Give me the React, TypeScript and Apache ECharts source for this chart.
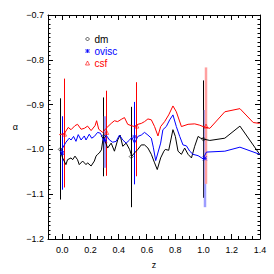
import React, { useEffect, useRef } from "react";
import * as echarts from "echarts";

// dm (black)
const dmZ = [-0.013, 0.003, 0.027, 0.038, 0.063, 0.074, 0.091, 0.109, 0.121, 0.145, 0.169, 0.18, 0.205, 0.228, 0.24, 0.251, 0.263, 0.278, 0.292, 0.322, 0.347, 0.37, 0.393, 0.41, 0.429, 0.453, 0.477, 0.493, 0.512, 0.536, 0.56, 0.583, 0.607, 0.631, 0.654, 0.673, 0.697, 0.72, 0.73, 0.754, 0.784, 0.801, 0.82, 0.844, 0.867, 0.891, 0.915, 0.938, 0.962, 0.981, 1.0, 1.045, 1.151, 1.258, 1.398];
const dmA = [-1.0, -1.019, -1.034, -1.023, -1.019, -1.023, -1.015, -1.023, -1.034, -1.026, -1.034, -1.03, -1.037, -1.026, -1.015, -1.011, -1.008, -1.001, -0.971, -0.997, -0.986, -1.004, -0.979, -0.968, -0.993, -0.986, -1.0, -1.015, -1.008, -1.0, -0.99, -0.99, -0.997, -1.011, -1.03, -1.045, -1.019, -1.004, -1.0, -1.002, -0.956, -0.971, -1.004, -1.011, -0.997, -1.011, -1.019, -0.993, -0.971, -0.975, -0.977, -0.98, -0.975, -0.948, -1.011];

// ovisc (blue)
const ovZ = [-0.013, 0.003, 0.027, 0.05, 0.063, 0.081, 0.098, 0.114, 0.134, 0.157, 0.169, 0.192, 0.209, 0.228, 0.251, 0.271, 0.287, 0.295, 0.311, 0.335, 0.358, 0.382, 0.406, 0.429, 0.453, 0.477, 0.493, 0.512, 0.536, 0.56, 0.583, 0.607, 0.631, 0.645, 0.662, 0.697, 0.713, 0.737, 0.761, 0.784, 0.808, 0.832, 0.855, 0.879, 0.903, 0.926, 0.962, 0.997, 1.021, 1.151, 1.258, 1.398];
const ovA = [-1.006, -0.997, -0.984, -0.975, -0.979, -0.971, -0.982, -0.967, -0.979, -0.97, -0.979, -0.966, -0.975, -0.971, -0.962, -0.964, -0.975, -0.98, -0.968, -0.979, -0.984, -0.982, -0.968, -0.979, -0.986, -0.979, -0.973, -0.986, -0.971, -0.968, -0.962, -0.968, -0.975, -0.995, -1.025, -0.986, -0.956, -0.949, -0.934, -0.923, -0.949, -0.971, -0.99, -0.992, -1.004, -1.011, -1.014, -1.021, -1.006, -1.004, -0.995, -1.011];

// csf (red)
const csZ = [-0.02, 0.015, 0.043, 0.063, 0.091, 0.109, 0.134, 0.157, 0.18, 0.205, 0.233, 0.244, 0.259, 0.287, 0.311, 0.347, 0.37, 0.393, 0.418, 0.441, 0.464, 0.489, 0.512, 0.536, 0.56, 0.583, 0.607, 0.631, 0.654, 0.678, 0.697, 0.725, 0.754, 0.784, 0.808, 0.844, 0.891, 0.938, 0.974, 0.997, 1.045, 1.151, 1.258, 1.352, 1.398];
const csA = [-0.967, -0.965, -0.951, -0.956, -0.947, -0.944, -0.955, -0.953, -0.948, -0.958, -0.947, -0.936, -0.955, -0.962, -0.953, -0.942, -0.936, -0.938, -0.933, -0.929, -0.944, -0.947, -0.949, -0.944, -0.942, -0.938, -0.932, -0.934, -0.949, -0.97, -0.949, -0.938, -0.923, -0.903, -0.916, -0.949, -0.944, -0.943, -0.946, -0.949, -0.953, -0.916, -0.909, -0.94, -0.942];

// error bars: z, low, high
const dmErrZ = [-0.013, 0.292, 0.489, 1.0];
const dmErrLo = [-1.112, -1.06, -1.129, -1.108];
const dmErrHi = [-0.886, -0.884, -0.905, -0.846];
const ovErrZ = [0.0, 0.303, 0.512, 1.009];
const ovErrLo = [-1.09, -1.041, -1.078, -1.129];
const ovErrHi = [-0.926, -0.926, -0.894, -0.912];
const csErrZ = [0.017, 0.315, 0.528, 1.018];
const csErrLo = [-1.085, -1.059, -1.06, -1.077];
const csErrHi = [-0.842, -0.869, -0.85, -0.817];

// markers
const dmMarkA = [-1.0, -0.971, -1.016, -0.977];
const ovMarkA = [-1.008, -0.98, -0.972, -1.02];
const csMarkA = [-0.966, -0.962, -0.948, -0.948];

// x-axis tick values
const xMajor = [0, 0.2, 0.4, 0.6, 0.8, 1.0, 1.2, 1.4];
const xMinor = [-0.05, 0.05, 0.1, 0.15, 0.25, 0.3, 0.35, 0.45, 0.5, 0.55, 0.65, 0.7, 0.75, 0.85, 0.9, 0.95, 1.05, 1.1, 1.15, 1.25, 1.3, 1.35];
const seriesNames = ["dm", "ovisc", "csf"];

const FONT = "Liberation Sans, Arial, sans-serif";
const X_SYMBOL = "path://M0 0L10 10M10 0L0 10M5 0L5 10M0 5L10 5";
const Y_MIN = -1.2;
const Y_MAX = -0.7;

export default function App() {
  const ref = useRef<HTMLDivElement>(null);
  useEffect(() => {
    const chart = echarts.init(ref.current!, null, { renderer: "svg" });
    const zip = (a: number[], b: number[]) => a.map((v, i) => [v, b[i]]);
    const zip3 = (a: number[], b: number[], c: number[]) => a.map((v, i) => [v, b[i], c[i]]);
    const colors = { dm: "#000000", ovisc: "#0000ff", csf: "#ff0000" };
    const lightColors = { dm: "#000000", ovisc: "#9d9dff", csf: "#ffa0a0" };
    const wide: Record<string, number[]> = { dm: [], ovisc: [1, 3], csf: [3] };
    const hollow = "rgba(0,0,0,0)";
    const crisp = (x: number) => Math.round(x - 0.5) + 0.5;

    const errSeries = (name: string, data: number[][]) => ({
      type: "custom",
      name: name + "-err",
      data,
      encode: { x: 0, y: [1, 2] },
      renderItem: (params: any, api: any) => {
        const p1 = api.coord([api.value(0), api.value(1)]);
        const p2 = api.coord([api.value(0), api.value(2)]);
        const isWide = wide[name].indexOf(params.dataIndex) >= 0;
        const x = isWide ? Math.round(p1[0]) : crisp(p1[0]);
        return {
          type: "line",
          shape: { x1: x, y1: p1[1], x2: x, y2: p2[1] },
          style: {
            stroke: isWide ? (lightColors as any)[name] : (colors as any)[name],
            lineWidth: isWide ? 2.5 : 1,
          },
        };
      },
      z: 1,
    });

    const tickData = [
      ...xMajor.map((v) => [v, Y_MIN, Y_MAX, 5]),
      ...xMinor.map((v) => [v, Y_MIN, Y_MAX, 3]),
    ];
    const tickSeries = {
      type: "custom",
      name: "x-ticks",
      data: tickData,
      encode: { x: 0, y: [1, 2] },
      silent: true,
      renderItem: (params: any, api: any) => {
        const v = api.value(0);
        const len = api.value(3);
        const b = api.coord([v, api.value(1)]);
        const t = api.coord([v, api.value(2)]);
        const x = crisp(b[0]);
        return {
          type: "group",
          children: [
            {
              type: "line",
              shape: { x1: x, y1: b[1], x2: x, y2: b[1] - len },
              style: { stroke: "#000", lineWidth: 1 },
            },
            {
              type: "line",
              shape: { x1: x, y1: t[1], x2: x, y2: t[1] + len },
              style: { stroke: "#000", lineWidth: 1 },
            },
          ],
        };
      },
      z: 5,
    };

    const tickStyle = { color: "#000", width: 1 };
    const yBase = {
      type: "value",
      min: Y_MIN,
      max: Y_MAX,
      interval: 0.1,
      splitLine: { show: false },
    };

    const option: any = {
      animation: false,
      grid: { left: 48, top: 15, width: 212, height: 228, containLabel: false },
      xAxis: [
        {
          type: "value",
          min: -0.1,
          max: 1.4,
          position: "bottom",
          splitLine: { show: false },
          axisLine: { show: true, onZero: false, lineStyle: tickStyle },
          axisTick: { show: false },
          axisLabel: {
            show: true,
            customValues: xMajor,
            formatter: (v: number) => v.toFixed(1),
            fontSize: 9,
            fontFamily: FONT,
            color: "#000",
            margin: 6,
          },
          name: "z",
          nameLocation: "middle",
          nameGap: 21,
          nameTextStyle: { fontSize: 9, fontFamily: FONT, color: "#000" },
        },
        {
          type: "value",
          min: -0.1,
          max: 1.4,
          position: "top",
          splitLine: { show: false },
          axisLine: { show: true, onZero: false, lineStyle: tickStyle },
          axisTick: { show: false },
          axisLabel: { show: false },
        },
      ],
      yAxis: [
        {
          ...yBase,
          position: "left",
          axisLine: { show: true, onZero: false, lineStyle: tickStyle },
          axisTick: { show: true, inside: true, length: 5, lineStyle: tickStyle },
          minorTick: { show: true, splitNumber: 10, length: 2.5, lineStyle: tickStyle },
          axisLabel: {
            show: true,
            formatter: (v: number) => (v < 0 ? "\u2212" : "") + Math.abs(v).toFixed(1),
            fontSize: 9,
            fontFamily: FONT,
            color: "#000",
            margin: 4,
          },
          name: "\u03b1",
          nameLocation: "middle",
          nameRotate: 0,
          nameGap: 30,
          nameTextStyle: { fontSize: 9, fontFamily: FONT, color: "#000" },
        },
        {
          ...yBase,
          position: "right",
          axisLine: { show: true, onZero: false, lineStyle: tickStyle },
          axisTick: { show: true, inside: true, length: 5, lineStyle: tickStyle },
          minorTick: { show: true, splitNumber: 10, length: 2.5, lineStyle: tickStyle },
          axisLabel: { show: false },
        },
      ],
      legend: {
        orient: "vertical",
        left: 80,
        top: 28,
        itemWidth: 4,
        itemHeight: 4,
        itemGap: 0,
        selectedMode: false,
        textStyle: { fontSize: 10, fontFamily: FONT, lineHeight: 12 },
        data: [
          {
            name: "dm",
            icon: "diamond",
            itemStyle: { color: hollow, borderColor: colors.dm, borderWidth: 0.8 },
            textStyle: { color: colors.dm },
          },
          {
            name: "ovisc",
            icon: X_SYMBOL,
            itemStyle: { color: colors.ovisc, borderColor: colors.ovisc, borderWidth: 1 },
            textStyle: { color: colors.ovisc },
          },
          {
            name: "csf",
            icon: "triangle",
            itemStyle: { color: hollow, borderColor: colors.csf, borderWidth: 0.8 },
            textStyle: { color: colors.csf },
          },
        ],
      },
      series: [
        errSeries("dm", zip3(dmErrZ, dmErrLo, dmErrHi)),
        errSeries("ovisc", zip3(ovErrZ, ovErrLo, ovErrHi)),
        errSeries("csf", zip3(csErrZ, csErrLo, csErrHi)),
        tickSeries,
        {
          type: "line",
          name: "dm-line",
          data: zip(dmZ, dmA),
          symbol: "none",
          lineStyle: { color: colors.dm, width: 1 },
          z: 2,
        },
        {
          type: "line",
          name: "ovisc-line",
          data: zip(ovZ, ovA),
          symbol: "none",
          lineStyle: { color: colors.ovisc, width: 1 },
          z: 2,
        },
        {
          type: "line",
          name: "csf-line",
          data: zip(csZ, csA),
          symbol: "none",
          lineStyle: { color: colors.csf, width: 1 },
          z: 2,
        },
        {
          type: "scatter",
          name: seriesNames[0],
          data: zip(dmErrZ, dmMarkA),
          symbol: "diamond",
          symbolSize: 4,
          itemStyle: { color: hollow, borderColor: colors.dm, borderWidth: 0.8 },
          z: 3,
        },
        {
          type: "scatter",
          name: seriesNames[1],
          data: zip(ovErrZ, ovMarkA),
          symbol: X_SYMBOL,
          symbolSize: 4,
          itemStyle: { color: colors.ovisc, borderColor: colors.ovisc, borderWidth: 1 },
          z: 3,
        },
        {
          type: "scatter",
          name: seriesNames[2],
          data: zip(csErrZ, csMarkA),
          symbol: "triangle",
          symbolSize: 4,
          itemStyle: { color: hollow, borderColor: colors.csf, borderWidth: 0.8 },
          z: 3,
        },
      ],
    };
    chart.setOption(option);
    return () => chart.dispose();
  }, []);
  return (
    <div
      ref={ref}
      style={{ position: "absolute", left: 0, top: 0, width: 274, height: 274, background: "#fff" }}
    />
  );
}
